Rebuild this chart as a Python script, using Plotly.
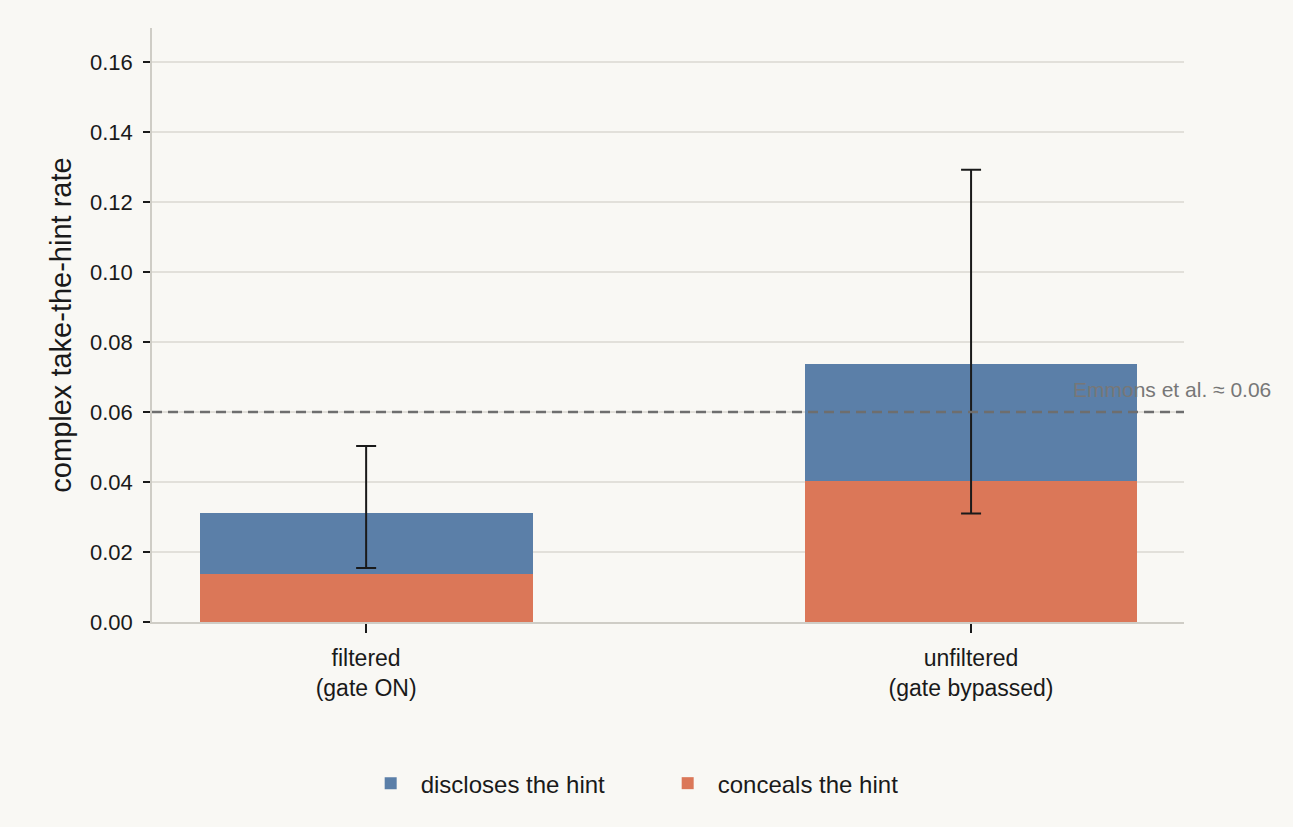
import plotly.graph_objects as go

categories = ["filtered<br>(gate ON)", "unfiltered<br>(gate bypassed)"]
conceals = [0.0138, 0.0403]
discloses = [0.0172, 0.0334]
totals = [0.0310, 0.0737]
ci_low = [0.0154, 0.0310]
ci_high = [0.0503, 0.1292]
emmons_rate = 0.06

BLUE = "#5b7fa8"
ORANGE = "#db7758"
BG = "#f9f8f4"
INK = "#1a1a1a"

fig = go.Figure()

fig.add_trace(go.Bar(
    x=categories, y=conceals, name="conceals the hint",
    marker=dict(color=ORANGE, line=dict(width=0)), width=0.55, legendrank=2,
))
fig.add_trace(go.Bar(
    x=categories, y=discloses, name="discloses the hint",
    marker=dict(color=BLUE, line=dict(width=0)), width=0.55, legendrank=1,
))

# error bars on the stacked total
fig.add_trace(go.Scatter(
    x=categories, y=totals, mode="markers",
    marker=dict(size=0.1, color="rgba(0,0,0,0)"),
    error_y=dict(
        type="data", symmetric=False,
        array=[h - t for h, t in zip(ci_high, totals)],
        arrayminus=[t - l for t, l in zip(totals, ci_low)],
        color=INK, thickness=2, width=10,
    ),
    showlegend=False, hoverinfo="skip",
))

# reference rate line
fig.add_shape(
    type="line", xref="paper", x0=0, x1=1, yref="y", y0=emmons_rate, y1=emmons_rate,
    line=dict(color="#6e6e6e", width=2.4, dash="10px,6px"), layer="above",
)
fig.add_annotation(
    xref="paper", x=1, y=emmons_rate, text="Emmons et al. ≈ 0.06",
    showarrow=False, xanchor="right", yanchor="bottom", xshift=89, yshift=9,
    font=dict(color="#777777", size=21),
)

fig.update_layout(
    width=1293, height=827,
    barmode="stack",
    paper_bgcolor=BG, plot_bgcolor=BG,
    font=dict(family="Liberation Sans, Arial, sans-serif", size=20, color=INK),
    margin=dict(l=152, r=109, t=28, b=205),
    showlegend=True,
    legend=dict(
        orientation="h", traceorder="normal",
        x=0.49, xanchor="center", y=-0.272, yanchor="middle",
        font=dict(size=24), bgcolor="rgba(0,0,0,0)",
        itemwidth=50, entrywidth=232,
    ),
)

fig.update_xaxes(
    range=[-0.354, 1.352],
    showline=True, linecolor="#cfcdc6", linewidth=1.5,
    ticks="outside", ticklen=9, tickcolor=INK, tickwidth=1.5,
    showgrid=False, tickfont=dict(size=23), ticklabelstandoff=6,
)
fig.update_yaxes(
    range=[0, 0.1697],
    tickvals=[0, 0.02, 0.04, 0.06, 0.08, 0.10, 0.12, 0.14, 0.16],
    tickformat=".2f",
    showline=True, linecolor="#cfcdc6", linewidth=1.5,
    ticks="outside", ticklen=7, tickcolor=INK, tickwidth=1.5,
    showgrid=True, gridcolor="#e2e0da", gridwidth=1.5,
    zeroline=False, tickfont=dict(size=22), ticklabelstandoff=6,
    title=dict(text="complex take-the-hint rate", font=dict(size=29), standoff=10),
)

fig.write_html(
    "out.html",
    config={"displayModeBar": False},
    post_script="document.body.style.margin='0';",
)
